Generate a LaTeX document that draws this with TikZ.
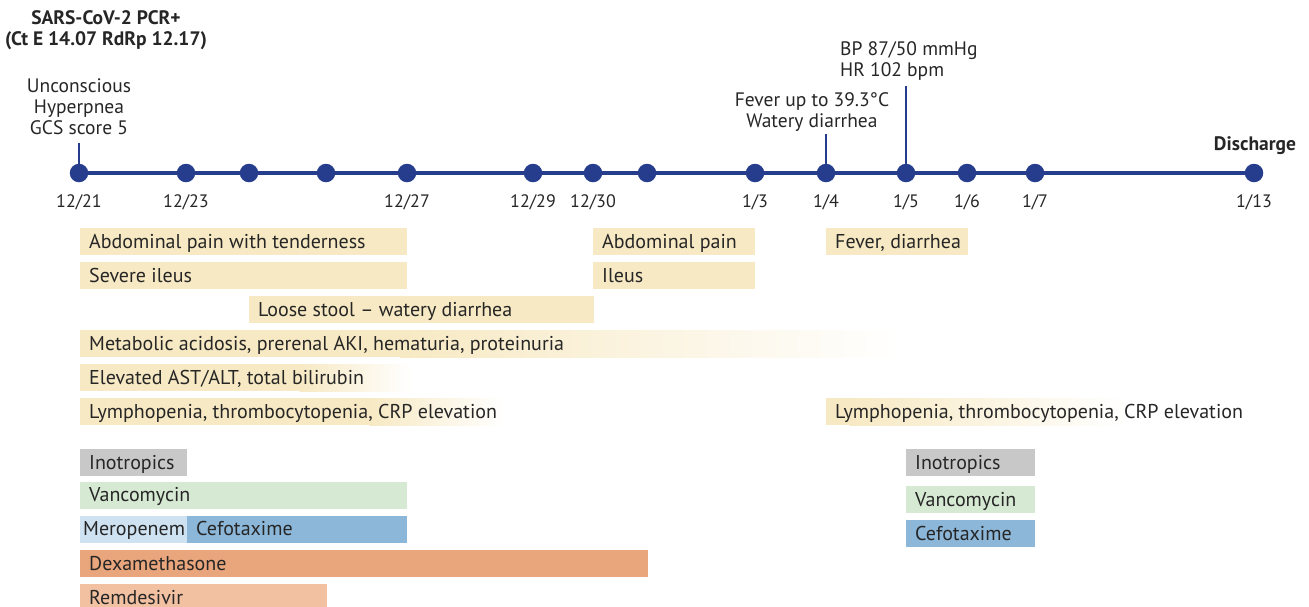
\documentclass[tikz,border=0pt]{standalone}
\usepackage{fontspec}
\setmainfont{PT Sans}
\usetikzlibrary{calc}
\definecolor{navy}{HTML}{253D8C}
\definecolor{tanc}{HTML}{F7E9C3}
\definecolor{grayc}{HTML}{C8C8C8}
\definecolor{greenc}{HTML}{D6E9D3}
\definecolor{lblue}{HTML}{CFE2F2}
\definecolor{mblue}{HTML}{8CB7D9}
\definecolor{dexc}{HTML}{E9A57C}
\definecolor{remc}{HTML}{F2C1A2}
\definecolor{txt}{HTML}{262626}
\newcommand\tbar[6]{%
  \fill[#5] (#2,#4-13.5) rectangle (#3,#4+13.5);
  \node[lbl] (#1) at (#2+9,#4+6.5) {#6};}
\begin{document}
\begin{tikzpicture}[x=1pt,y=-1pt,
  every node/.style={text=txt,font=\fontsize{19.5}{21}\selectfont},
  lbl/.style={anchor=base west,inner sep=0pt,font=\fontsize{20}{21}\selectfont},
  dot/.style={circle,fill=navy,minimum size=18.5pt,inner sep=0pt},
  date/.style={anchor=base,inner sep=0pt,font=\fontsize{18}{21}\selectfont},
  stem/.style={navy,line width=2.5pt},
  tl/.style={navy,line width=4pt}]
\useasboundingbox (0,0) rectangle (1309,606);
% timeline
\foreach \n/\x in {d1/79,d2/186,d3/249,d4/326,d5/407,d6/533,d7/593,d8/647,d9/755,d10/826,d11/906,d12/967,d13/1035,d14/1254}
  \coordinate (\n) at (\x,173);
\draw[tl] (d1) -- (d14);
\foreach \n in {d1,d2,d3,d4,d5,d6,d7,d8,d9,d10,d11,d12,d13,d14}
  \node[dot] (\n n) at (\n) {};
% dates
\foreach \n/\t in {d1/12\slash 21,d2/12\slash 23,d5/12\slash 27,d6/12\slash 29,d7/12\slash 30,d9/1\slash 3,d10/1\slash 4,d11/1\slash 5,d12/1\slash 6,d13/1\slash 7,d14/1\slash 13}
  \node[date] (\n t) at ($(\n)+(0,34)$) {\t};
% annotations
\coordinate (s1) at (79,143);
\coordinate (s2) at (826,134);
\coordinate (s3) at (906,86);
\draw[stem] (d1n.center) -- (s1);
\draw[stem] (d10n.center) -- (s2);
\draw[stem] (d11n.center) -- (s3);
\node[anchor=base,inner sep=0pt,align=center,font=\bfseries\fontsize{19.5}{21}\selectfont] (pcr) at (106,45) {SARS-CoV-2 PCR+\\(Ct E 14.07 RdRp 12.17)};
\node[anchor=base,inner sep=0pt,align=center] (unc) at (79,134) {Unconscious\\Hyperpnea\\GCS score 5};
\node[anchor=base,inner sep=0pt,align=center] (fev) at (812,127) {Fever up to 39.3°C\\Watery diarrhea};
\node[anchor=base west,inner sep=0pt,align=left] (bp) at (840,76) {BP 87/50 mmHg\\HR 102 bpm};
\node[anchor=base,inner sep=0pt,font=\bfseries\fontsize{19.5}{21}\selectfont] (dis) at (1255,150) {Discharge};
% symptom bars
\tbar{b1}{80}{407}{241.5}{tanc}{Abdominal pain with tenderness}
\tbar{b2}{593}{755}{241.5}{tanc}{Abdominal pain}
\tbar{b3}{826}{968}{241.5}{tanc}{Fever, diarrhea}
\tbar{b4}{80}{407}{275.5}{tanc}{Severe ileus}
\tbar{b5}{593}{755}{275.5}{tanc}{Ileus}
\tbar{b6}{249}{594}{309.5}{tanc}{Loose stool -- watery diarrhea}
% gradient bars
\fill[tanc] (80,330) rectangle (400,357);
\shade[left color=tanc,right color=white] (399.5,330) rectangle (900,357);
\node[lbl] (b7) at (89,350) {Metabolic acidosis, prerenal AKI, hematuria, proteinuria};
\fill[tanc] (80,364) rectangle (300,391);
\shade[left color=tanc,right color=white] (299.5,364) rectangle (412,391);
\node[lbl] (b8) at (89,384) {Elevated AST/ALT, total bilirubin};
\fill[tanc] (80,398) rectangle (370,425);
\shade[left color=tanc,right color=white] (369.5,398) rectangle (505,425);
\node[lbl] (b9) at (89,418) {Lymphopenia, thrombocytopenia, CRP elevation};
\fill[tanc] (826,398) rectangle (850,425);
\shade[left color=tanc,right color=white] (849.5,398) rectangle (1125,425);
\node[lbl] (b10) at (835,418) {Lymphopenia, thrombocytopenia, CRP elevation};
% drug bars
\tbar{m1}{80}{187}{462.5}{grayc}{Inotropics}
\tbar{m2}{80}{407}{495}{greenc}{Vancomycin}
\fill[lblue] (80,516) rectangle (187,542.5);
\node[lbl] (m3) at (83,535.5) {Meropenem};
\tbar{m4}{187}{407}{529}{mblue}{Cefotaxime}
\tbar{m5}{80}{648}{563.5}{dexc}{Dexamethasone}
\tbar{m6}{80}{327}{597.5}{remc}{Remdesivir}
\tbar{r1}{906}{1035}{462.5}{grayc}{Inotropics}
\tbar{r2}{906}{1035}{499.5}{greenc}{Vancomycin}
\tbar{r3}{906}{1035}{533.5}{mblue}{Cefotaxime}
\end{tikzpicture}
\end{document}
